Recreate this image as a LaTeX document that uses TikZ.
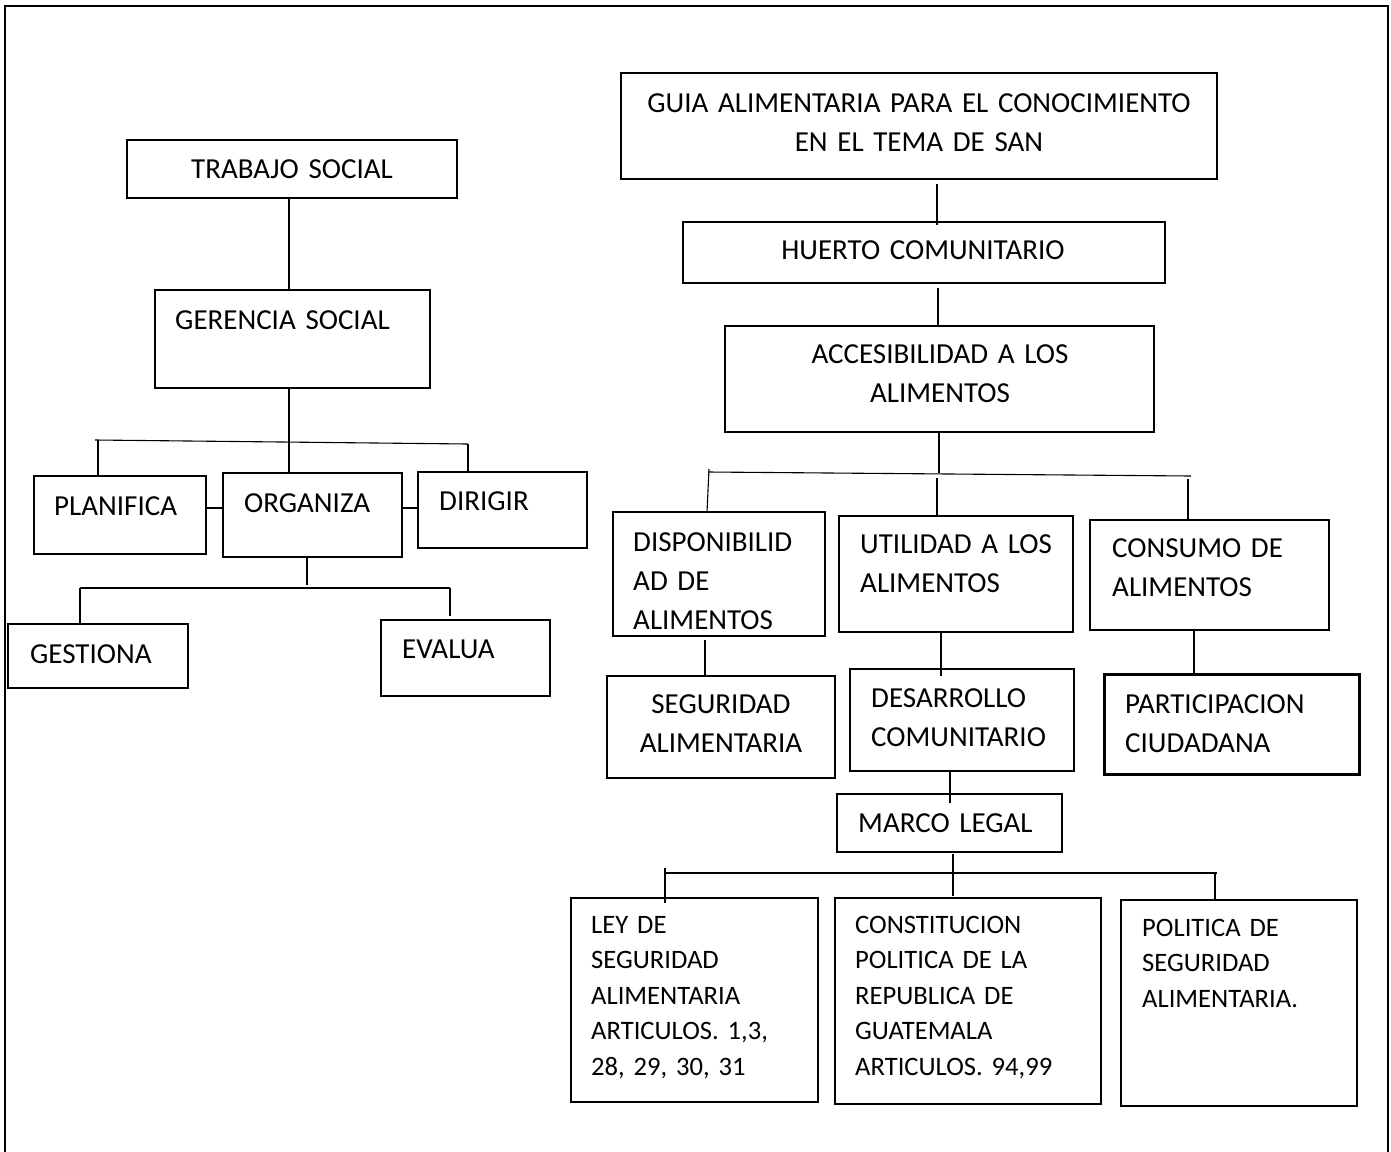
\documentclass[tikz,border=0pt]{standalone}
\usepackage{fontspec}
\setmainfont{Carlito}
\tikzset{
  bx/.style={draw=black, line width=1.1pt, inner sep=0pt, outer sep=0pt, rectangle},
  bxthick/.style={bx, line width=2pt},
  bxheavy/.style={bx, line width=3pt},
  lnk/.style={draw=black, line width=1.1pt},
  frm/.style={draw=black, line width=2.6pt},
  tl/.style={inner sep=0pt, anchor=base west, text width=420pt, align=left, font=\fontsize{29}{39}\selectfont},
  tc/.style={inner sep=0pt, anchor=base, text width=600pt, align=center, font=\fontsize{29}{39}\selectfont},
  small/.style={font=\fontsize{26.6}{35.5}\selectfont},
}
\newcommand\mybox[6]{\node[#6, minimum width={#4-#2}, minimum height={#5-#3}] (#1) at ({(#2+#4)/2},{(#3+#5)/2}) {};}
\begin{document}
\begin{tikzpicture}[x=1pt,y=-1pt]
\useasboundingbox (0,0) rectangle (1391,1151);
% outer frame
\draw[frm] (5,1165) -- (5,6) -- (1388,6) -- (1388,1165);

% ---------- left tree ----------
\mybox{trabajo}{127}{140}{457}{198}{bx}
\mybox{gerencia}{155}{290}{430}{388}{bxthick}
\mybox{planifica}{34}{476}{206}{554}{bxthick}
\mybox{organiza}{223}{473}{402}{557}{bx}
\mybox{dirigir}{418}{472}{587}{548}{bx}
\mybox{gestiona}{8}{624}{188}{688}{bx}
\mybox{evalua}{381}{620}{550}{696}{bx}

\node[tc] (ttrabajo) at (292,178) {TRABAJO SOCIAL};
\node[tl] (tgerencia) at (175,329) {GERENCIA SOCIAL};
\node[tl] (tplanifica) at (54,515) {PLANIFICA};
\node[tl] (torganiza) at (244,512) {ORGANIZA};
\node[tl] (tdirigir) at (439,510) {DIRIGIR};
\node[tl] (tgestiona) at (30,663) {GESTIONA};
\node[tl] (tevalua) at (402,658) {EVALUA};

\coordinate (busAL) at (95,440);
\coordinate (busAR) at (468,444);
\coordinate (busAM) at (289,442);
\coordinate (busAP) at (98,440);
\coordinate (busBL) at (80,588);
\coordinate (busBR) at (450,588);
\coordinate (busBM) at (307,585);
\coordinate (evalEnd) at (450,616);

\draw[lnk] (trabajo.south -| 289,0) -- (gerencia.north -| 289,0);
\draw[lnk] (gerencia.south -| 289,0) -- (busAM);
\draw[lnk] (busAL) -- (busAR);
\draw[lnk] (busAP) -- (planifica.north -| busAP);
\draw[lnk] (busAM) -- (organiza.north -| busAM);
\draw[lnk] (busAR) -- (dirigir.north -| busAR);
\draw[lnk] (planifica.east |- 0,508) -- (organiza.west |- 0,508);
\draw[lnk] (organiza.east |- 0,508) -- (dirigir.west |- 0,508);
\draw[lnk] (organiza.south -| busBM) -- (busBM);
\draw[lnk] (busBL) -- (busBR);
\draw[lnk] (busBL) -- (gestiona.north -| busBL);
\draw[lnk] (busBR) -- (evalEnd);

% ---------- right tree ----------
\mybox{guia}{621}{73}{1217}{179}{bxthick}
\mybox{huerto}{683}{222}{1165}{283}{bx}
\mybox{acces}{725}{326}{1154}{432}{bx}
\mybox{disp}{613}{512}{825}{636}{bx}
\mybox{util}{839}{516}{1073}{632}{bx}
\mybox{consumo}{1090}{520}{1329}{630}{bx}
\mybox{segur}{607}{676}{835}{778}{bx}
\mybox{desarr}{850}{669}{1074}{771}{bx}
\mybox{partic}{1104}{674}{1359}{774}{bxheavy}
\mybox{marco}{837}{794}{1062}{852}{bx}
\mybox{ley}{571}{898}{818}{1102}{bx}
\mybox{const}{835}{898}{1101}{1104}{bx}
\mybox{polit}{1121}{900}{1357}{1106}{bx}

\node[tc] (tguia) at (919,112) {GUIA ALIMENTARIA PARA EL CONOCIMIENTO\\EN EL TEMA DE SAN};
\node[tc] (thuerto) at (923,259) {HUERTO COMUNITARIO};
\node[tc] (tacces) at (940,363) {ACCESIBILIDAD A LOS\\ALIMENTOS};
\begin{scope}
\clip (613,512) rectangle (825,629.5);
\node[tl] (tdisp) at (633,551) {DISPONIBILID\\AD DE\\ALIMENTOS};
\end{scope}
\node[tl] (tutil) at (860,553) {UTILIDAD A LOS\\ALIMENTOS};
\node[tl] (tconsumo) at (1112,557) {CONSUMO DE\\ALIMENTOS};
\node[tc] (tsegur) at (721,713) {SEGURIDAD\\ALIMENTARIA};
\node[tl] (tdesarr) at (871,707) {DESARROLLO\\COMUNITARIO};
\node[tl] (tpartic) at (1125,713) {PARTICIPACION\\CIUDADANA};
\node[tl] (tmarco) at (858,832) {MARCO LEGAL};
\node[tl,small] (tley) at (591,933) {LEY DE\\SEGURIDAD\\ALIMENTARIA\\ARTICULOS. 1,3,\\28, 29, 30, 31};
\node[tl,small] (tconst) at (855,933) {CONSTITUCION\\POLITICA DE LA\\REPUBLICA DE\\GUATEMALA\\ARTICULOS. 94,99};
\node[tl,small] (tpolit) at (1142,936) {POLITICA DE\\SEGURIDAD\\ALIMENTARIA.};

\coordinate (busCL) at (708,472);
\coordinate (busCR) at (1191,476);
\coordinate (busCM) at (939,473);
\coordinate (busCP) at (709,469);
\coordinate (busCU) at (937,478);
\coordinate (busCC) at (1188,479);
\coordinate (utilEnd) at (941,676);
\coordinate (desEnd) at (950,803);
\coordinate (busDM) at (953,896);
\coordinate (busDL) at (665,873);
\coordinate (busDR) at (1217,873);
\coordinate (leyTop) at (665,868);
\coordinate (leyEnd) at (665,903);
\coordinate (polTop) at (1215,873);

\draw[lnk, shorten <=5pt, shorten >=-3pt] (guia.south -| 937,0) -- (huerto.north -| 937,0);
\draw[lnk, shorten <=5pt] (huerto.south -| 938,0) -- (acces.north -| 938,0);
\draw[lnk] (acces.south -| busCM) -- (busCM);
\draw[lnk] (busCL) -- (busCR);
\draw[lnk] (busCP) -- (disp.north -| 707,0);
\draw[lnk] (busCU) -- (util.north -| busCU);
\draw[lnk] (busCC) -- (consumo.north -| busCC);
\draw[lnk, shorten <=4pt] (disp.south -| 705,0) -- (segur.north -| 705,0);
\draw[lnk] (util.south -| utilEnd) -- (utilEnd);
\draw[lnk] (consumo.south -| 1194,0) -- (partic.north -| 1194,0);
\draw[lnk] (desarr.south -| desEnd) -- (desEnd);
\draw[lnk, shorten <=2pt] (marco.south -| busDM) -- (busDM);
\draw[lnk] (busDL) -- (busDR);
\draw[lnk] (leyTop) -- (leyEnd);
\draw[lnk] (polTop) -- (polit.north -| polTop);
\end{tikzpicture}
\end{document}
